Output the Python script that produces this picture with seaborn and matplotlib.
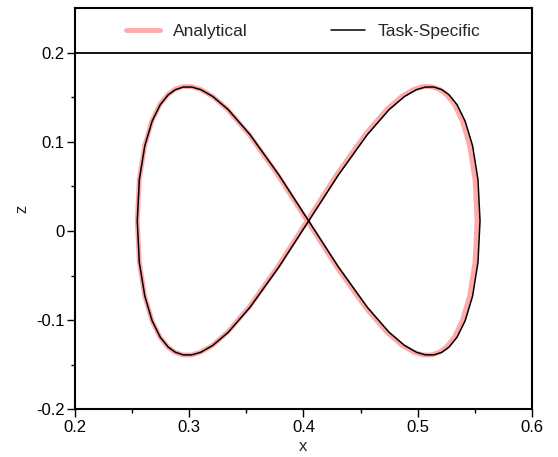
import matplotlib
matplotlib.use("Agg")
import matplotlib.pyplot as plt
import seaborn as sns
from matplotlib.ticker import FixedLocator, FuncFormatter

# points (x, z)
analytical_x = [0.4032, 0.4290, 0.4541, 0.4730, 0.4864, 0.4968, 0.5046, 0.5120, 0.5188, 0.5250, 0.5320, 0.5390, 0.5454, 0.5501, 0.5519,
                0.5501, 0.5454, 0.5390, 0.5320, 0.5250, 0.5188, 0.5120, 0.5046, 0.4968, 0.4864, 0.4730, 0.4541, 0.4290, 0.4032,
                0.3774, 0.3523, 0.3334, 0.3201, 0.3096, 0.3018, 0.2944, 0.2876, 0.2814, 0.2744, 0.2674, 0.2610, 0.2563, 0.2545,
                0.2563, 0.2610, 0.2674, 0.2744, 0.2814, 0.2876, 0.2944, 0.3018, 0.3096, 0.3201, 0.3334, 0.3523, 0.3774, 0.4032]
analytical_z = [0.0115, 0.0631, 0.1084, 0.1365, 0.1513, 0.1590, 0.1619, 0.1619, 0.1590, 0.1532, 0.1421, 0.1236, 0.0958, 0.0581, 0.0115,
                -0.0351, -0.0728, -0.1006, -0.1191, -0.1302, -0.1360, -0.1389, -0.1389, -0.1360, -0.1283, -0.1135, -0.0854, -0.0401, 0.0115,
                0.0631, 0.1084, 0.1365, 0.1513, 0.1590, 0.1619, 0.1619, 0.1590, 0.1532, 0.1421, 0.1236, 0.0958, 0.0581, 0.0115,
                -0.0351, -0.0728, -0.1006, -0.1191, -0.1302, -0.1360, -0.1389, -0.1389, -0.1360, -0.1283, -0.1135, -0.0854, -0.0401, 0.0115]

task_x = [0.4045, 0.4305, 0.4558, 0.4749, 0.4884, 0.4989, 0.5068, 0.5142, 0.5211, 0.5274, 0.5344, 0.5415, 0.5480, 0.5527, 0.5545,
          0.5527, 0.5480, 0.5415, 0.5344, 0.5274, 0.5211, 0.5142, 0.5068, 0.4989, 0.4884, 0.4749, 0.4558, 0.4305, 0.4045,
          0.3785, 0.3532, 0.3341, 0.3206, 0.3101, 0.3022, 0.2948, 0.2879, 0.2816, 0.2746, 0.2675, 0.2611, 0.2563, 0.2545,
          0.2563, 0.2611, 0.2675, 0.2746, 0.2816, 0.2879, 0.2948, 0.3022, 0.3101, 0.3206, 0.3341, 0.3532, 0.3785, 0.4045]
task_z = [0.0113, 0.0628, 0.1080, 0.1361, 0.1508, 0.1585, 0.1614, 0.1614, 0.1585, 0.1527, 0.1416, 0.1231, 0.0955, 0.0578, 0.0113,
          -0.0352, -0.0729, -0.1005, -0.1190, -0.1301, -0.1359, -0.1388, -0.1388, -0.1359, -0.1282, -0.1135, -0.0854, -0.0402, 0.0113,
          0.0628, 0.1080, 0.1361, 0.1508, 0.1585, 0.1614, 0.1614, 0.1585, 0.1527, 0.1416, 0.1231, 0.0955, 0.0578, 0.0113,
          -0.0352, -0.0729, -0.1005, -0.1190, -0.1301, -0.1359, -0.1388, -0.1388, -0.1359, -0.1282, -0.1135, -0.0854, -0.0402, 0.0113]

x_ticks = [0.2, 0.3, 0.4, 0.5, 0.6]
x_minor = [0.25, 0.35, 0.45, 0.55]
z_ticks = [-0.2, -0.1, 0.0, 0.1, 0.2]
z_minor = [-0.15, -0.05, 0.05, 0.15]

sns.set_style("ticks")
plt.rcParams['font.family'] = ['Liberation Sans', 'DejaVu Sans']
plt.rcParams['axes.unicode_minus'] = False

fig = plt.figure(figsize=(5.58, 4.57), dpi=100)
ax = fig.add_axes([0.1344, 0.104, 0.819, 0.8785])

sns.lineplot(x=analytical_x, y=analytical_z, sort=False, estimator=None, color='#ffaaaa',
             linewidth=3.5, label='Analytical', ax=ax)
sns.lineplot(x=task_x, y=task_z, sort=False, estimator=None, color='black',
             linewidth=1.1, label='Task-Specific', ax=ax)

# separator line under the legend
ax.axhline(0.2, color='black', linewidth=1.3)

ax.set_xlim(0.2, 0.6)
ax.set_ylim(-0.2, 0.25)
ax.xaxis.set_major_locator(FixedLocator(x_ticks))
ax.xaxis.set_minor_locator(FixedLocator(x_minor))
ax.yaxis.set_major_locator(FixedLocator(z_ticks))
ax.yaxis.set_minor_locator(FixedLocator(z_minor))
fmt = FuncFormatter(lambda v, p: ('%g' % round(v, 3)))
ax.xaxis.set_major_formatter(fmt)
ax.yaxis.set_major_formatter(fmt)
ax.tick_params(which='major', direction='out', length=5.5, width=1, labelsize=12, colors='black', pad=2)
ax.tick_params(which='minor', direction='out', length=3, width=1, colors='black')
ax.tick_params(top=False, right=False)
for s in ax.spines.values():
    s.set_linewidth(1.5)
    s.set_color('black')

ax.set_xlabel('x', fontsize=12, labelpad=3)
ax.set_ylabel('z', fontsize=12, labelpad=5)

ax.legend(loc='upper center', ncol=2, frameon=False, fontsize=12.5,
          bbox_to_anchor=(0.5, 1.0), handlelength=1.95, handletextpad=0.75,
          columnspacing=4.8)

fig.savefig('out.png', dpi=100)
